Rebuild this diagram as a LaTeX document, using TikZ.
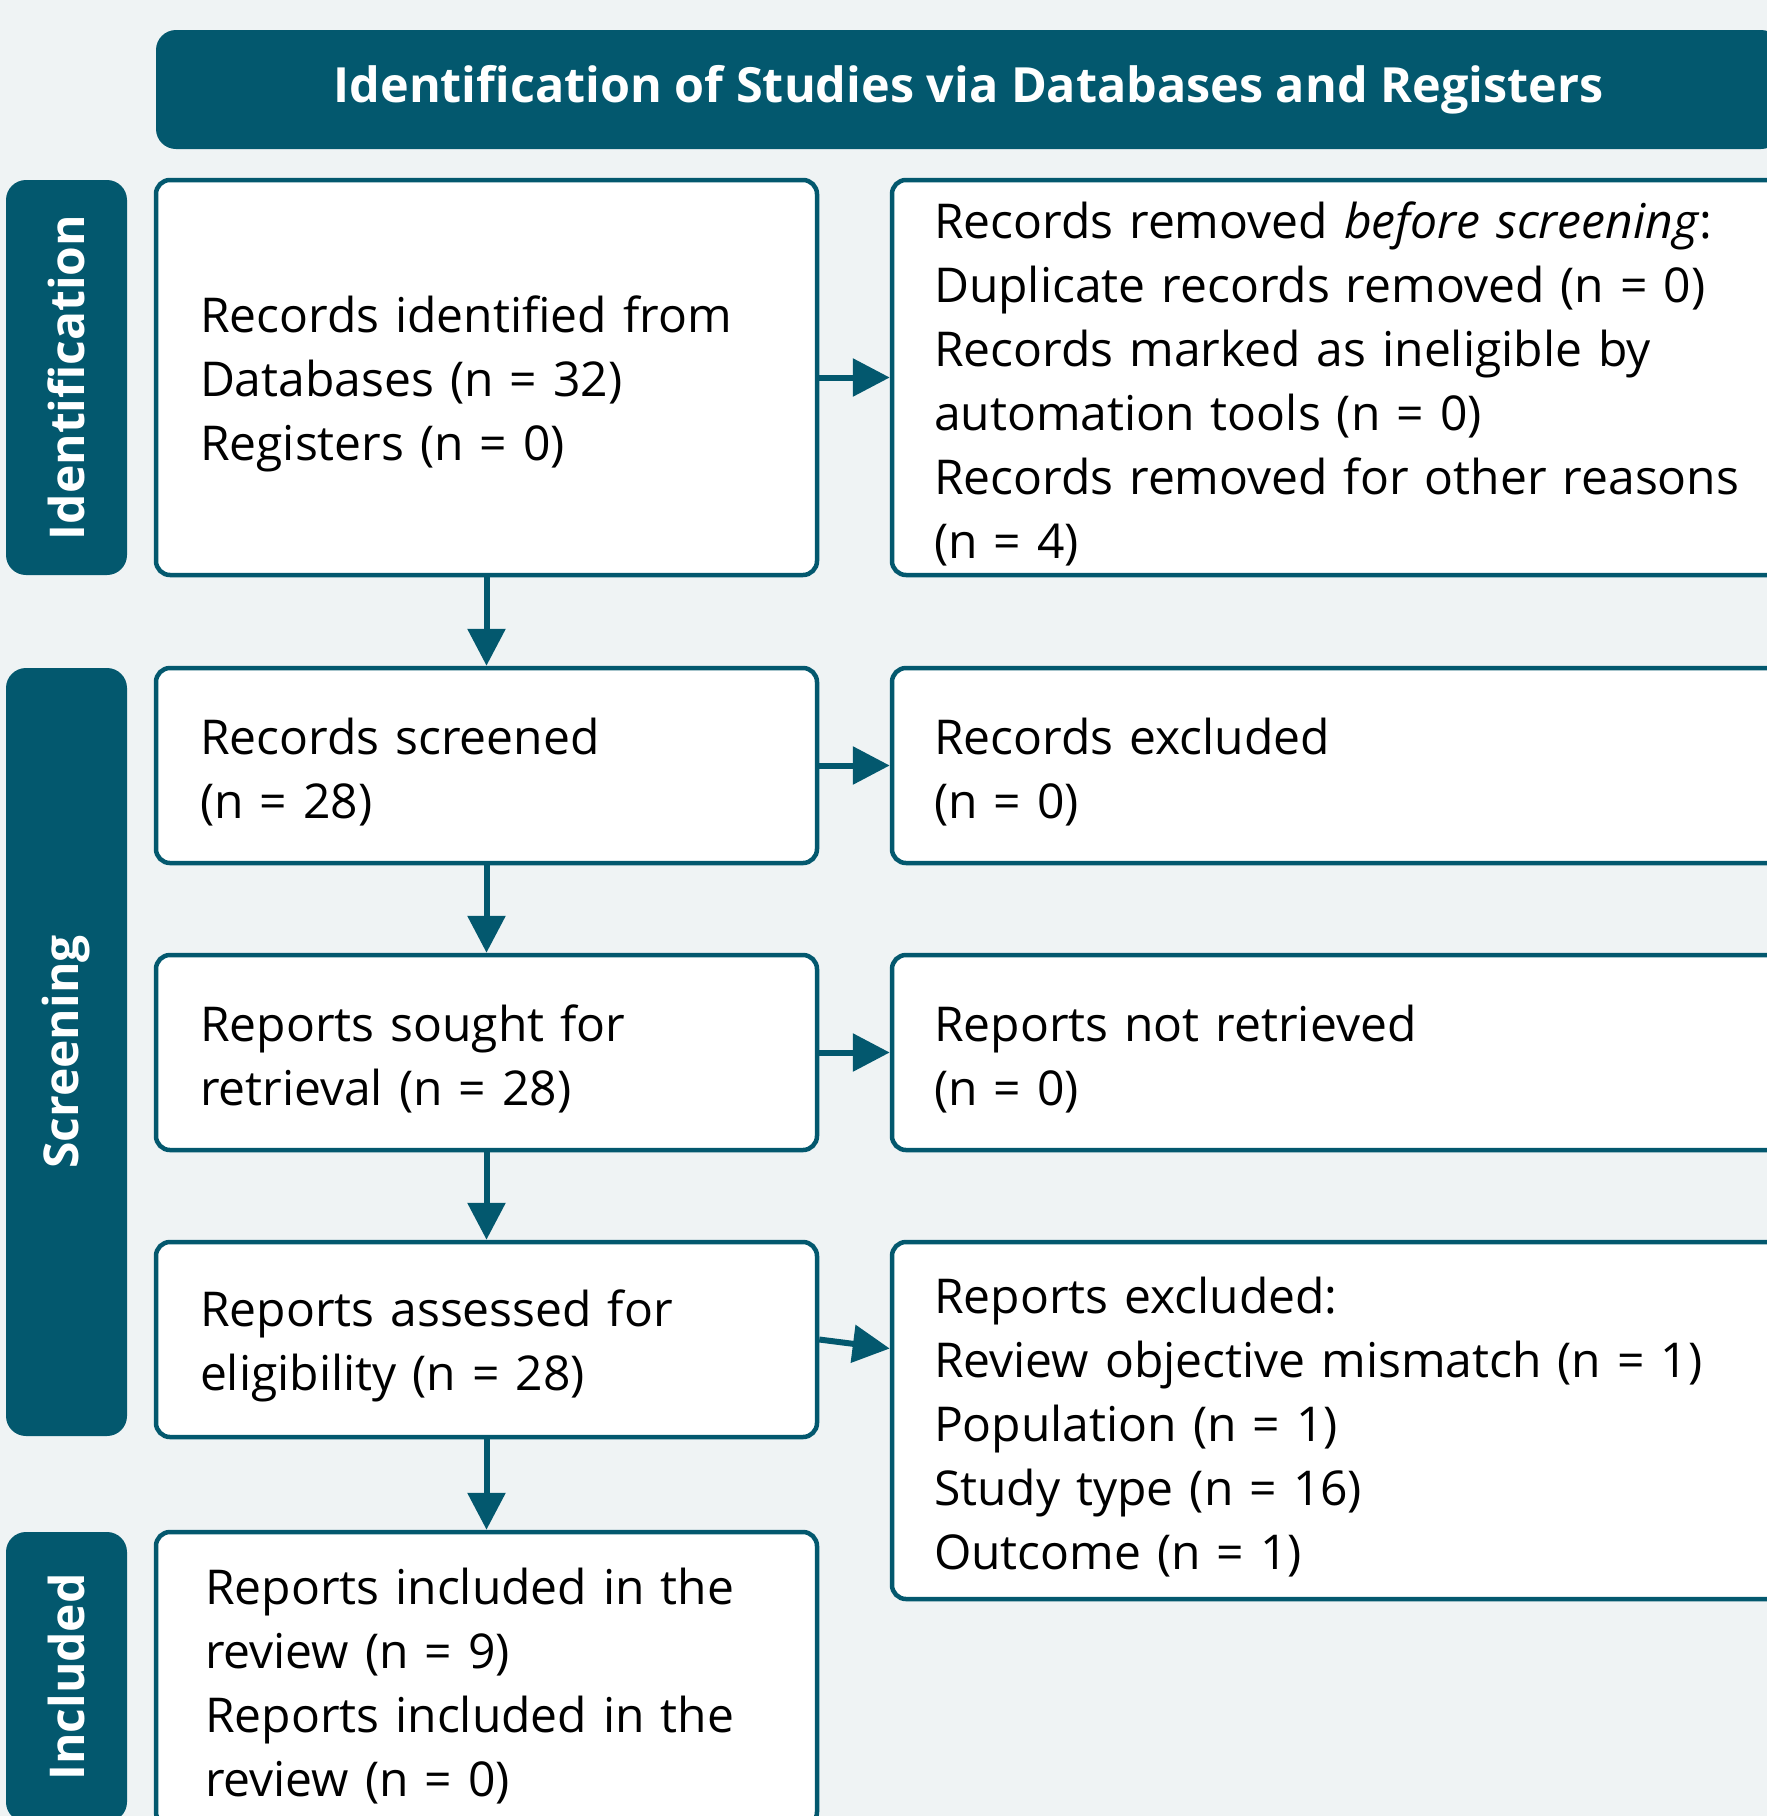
\documentclass[tikz,border=0pt]{standalone}
\usepackage{fontspec}
\setmainfont{Open Sans}
\usetikzlibrary{arrows.meta,calc}
\definecolor{FlowClr}{rgb}{0.012,0.345,0.431}
\definecolor{PageClr}{rgb}{0.937,0.953,0.957}
\newcommand{\flowfont}{\fontsize{48}{64}\selectfont}
\newcommand{\tagfont}{\fontsize{48}{58}\selectfont\bfseries}

\begin{document}
\begin{tikzpicture}[x=1pt,y=-1pt,
  box/.style={draw=FlowClr,fill=white,line width=4.5pt,rounded corners=14pt,
    align=left,font=\flowfont,inner xsep=44pt,inner ysep=0pt,
    text width=573pt,minimum width=661pt,
    execute at begin node={\rule{0pt}{50pt}}},
  far/.style={box,inner xsep=42pt,text width=824pt,minimum width=908pt},
  tag/.style={fill=FlowClr,rounded corners=20pt,text=white,font=\tagfont,
    rotate=90,inner sep=0pt,minimum height=121pt},
  arr/.style={draw=FlowClr,line width=6pt,-{Triangle[width=37pt,length=37pt]}}]

\useasboundingbox (0,0) rectangle (1767,1816);
\clip (0,0) rectangle (1767,1816);
\fill[PageClr] (0,0) rectangle (1767,1816);

% header
\node[fill=FlowClr,rounded corners=20pt,text=white,font=\fontsize{48.5}{56}\selectfont\bfseries,
  minimum width=1625pt,minimum height=119pt] (head) at (968.5,89.5)
  {Identification of Studies via Databases and Registers};

% phase tags
\node[tag,minimum width=395pt] (idtag) at (66.5,377.5) {Identification};
\node[tag,minimum width=768pt] (sctag) at (66.5,1052) {Screening};
\node[tag,minimum width=290pt] (intag) at (66.5,1677) {Included};

% main column
\node[box,minimum height=395pt] (ident) at (486.5,377.5)
  {Records identified from\\Databases (n = 32)\\Registers (n = 0)};
\node[box,minimum height=195pt] (screen) at (486.5,765.5)
  {Records screened\\(n = 28)};
\node[box,minimum height=195pt] (sought) at (486.5,1052.5)
  {Reports sought for\\retrieval (n = 28)};
\node[box,minimum height=195pt] (assess) at (486.5,1339.5)
  {Reports assessed for\\eligibility (n = 28)};
\node[box,minimum height=294pt,inner xsep=49pt,text width=563pt] (incl) at (486.5,1679)
  {Reports included in the\\review (n = 9)\\Reports included in the\\review (n = 0)};

% side column
\node[far,minimum height=395pt] (removed) at (1346,377.5)
  {Records removed \emph{before screening}:\\Duplicate records removed (n = 0)\\
   Records marked as ineligible by\\automation tools (n = 0)\\
   Records removed for other reasons\\(n = 4)};
\node[far,minimum height=195pt] (recex) at (1346,765.5)
  {Records excluded\\(n = 0)};
\node[far,minimum height=195pt] (notret) at (1346,1052.5)
  {Reports not retrieved\\(n = 0)};
\node[far,minimum height=357pt] (repex) at (1346,1420.5)
  {Reports excluded:\\Review objective mismatch (n = 1)\\Population (n = 1)\\
   Study type (n = 16)\\Outcome (n = 1)};

% arrows
\draw[arr] (ident) -- (screen);
\draw[arr] (screen) -- (sought);
\draw[arr] (sought) -- (assess);
\draw[arr] (assess) -- (incl);
\draw[arr] (ident) -- (removed);
\draw[arr] (screen) -- (recex);
\draw[arr] (sought) -- (notret);
\draw[arr] (assess.east) -- ([yshift=-9pt]assess.east -| repex.west);

\end{tikzpicture}
\end{document}
